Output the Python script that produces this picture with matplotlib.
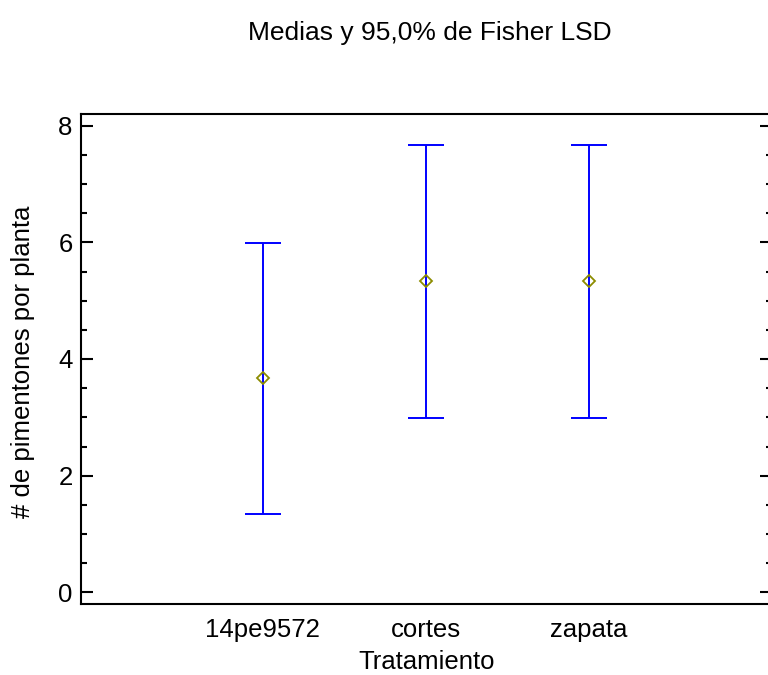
import matplotlib
matplotlib.use("Agg")
import matplotlib.pyplot as plt
from matplotlib.ticker import MultipleLocator

categories = ["14pe9572", "cortes", "zapata"]
means = [3.667, 5.333, 5.333]
lower = [1.34, 2.99, 2.99]
upper = [5.99, 7.67, 7.67]

plt.rcParams['font.family'] = ['Liberation Sans', 'DejaVu Sans']

fig = plt.figure(figsize=(7.68, 6.75), dpi=100)
L, R, T, B = 81, 772, 114, 604
ax = fig.add_axes([L/768, 1 - B/675, (R - L)/768, (B - T)/675])

x = [1, 2, 3]
yerr = [[m - l for m, l in zip(means, lower)], [u - m for m, u in zip(means, upper)]]
ax.errorbar(x, means, yerr=yerr, fmt='none', ecolor='#0000ff', elinewidth=1.4,
            capsize=13, capthick=1.4)
ax.plot(x, means, linestyle='none', marker='D', markersize=6.5, markerfacecolor='none',
        markeredgecolor='#8c8c00', markeredgewidth=1.3)

ax.set_xlim(-0.113, 4.12)
ax.set_ylim(-0.2, 8.2)
ax.set_xticks(x)
ax.set_xticklabels(categories)
ax.yaxis.set_major_locator(MultipleLocator(2))
ax.yaxis.set_minor_locator(MultipleLocator(0.5))
ax.tick_params(axis='y', which='major', direction='in', length=8.5, width=1.5,
               right=True, labelsize=18.5, pad=6)
ax.tick_params(axis='y', which='minor', direction='in', length=4.3, width=1.5, right=True)
ax.tick_params(axis='x', length=0, labelsize=18.5, pad=10)
for s in ax.spines.values():
    s.set_linewidth(1.5)

ax.set_xlabel("Tratamiento", fontsize=18.5, va='center')
ax.xaxis.set_label_coords((427 - L)/(R - L), -(662 - B)/(B - T))
ax.set_ylabel("# de pimentones por planta", fontsize=18.5, va='center')
ax.yaxis.set_label_coords(-(L - 23)/(R - L), (B - 362)/(B - T))
fig.text(430/768, 1 - 33/675, "Medias y 95,0% de Fisher LSD", ha='center', va='center', fontsize=19)

fig.savefig("out.png", dpi=100)
